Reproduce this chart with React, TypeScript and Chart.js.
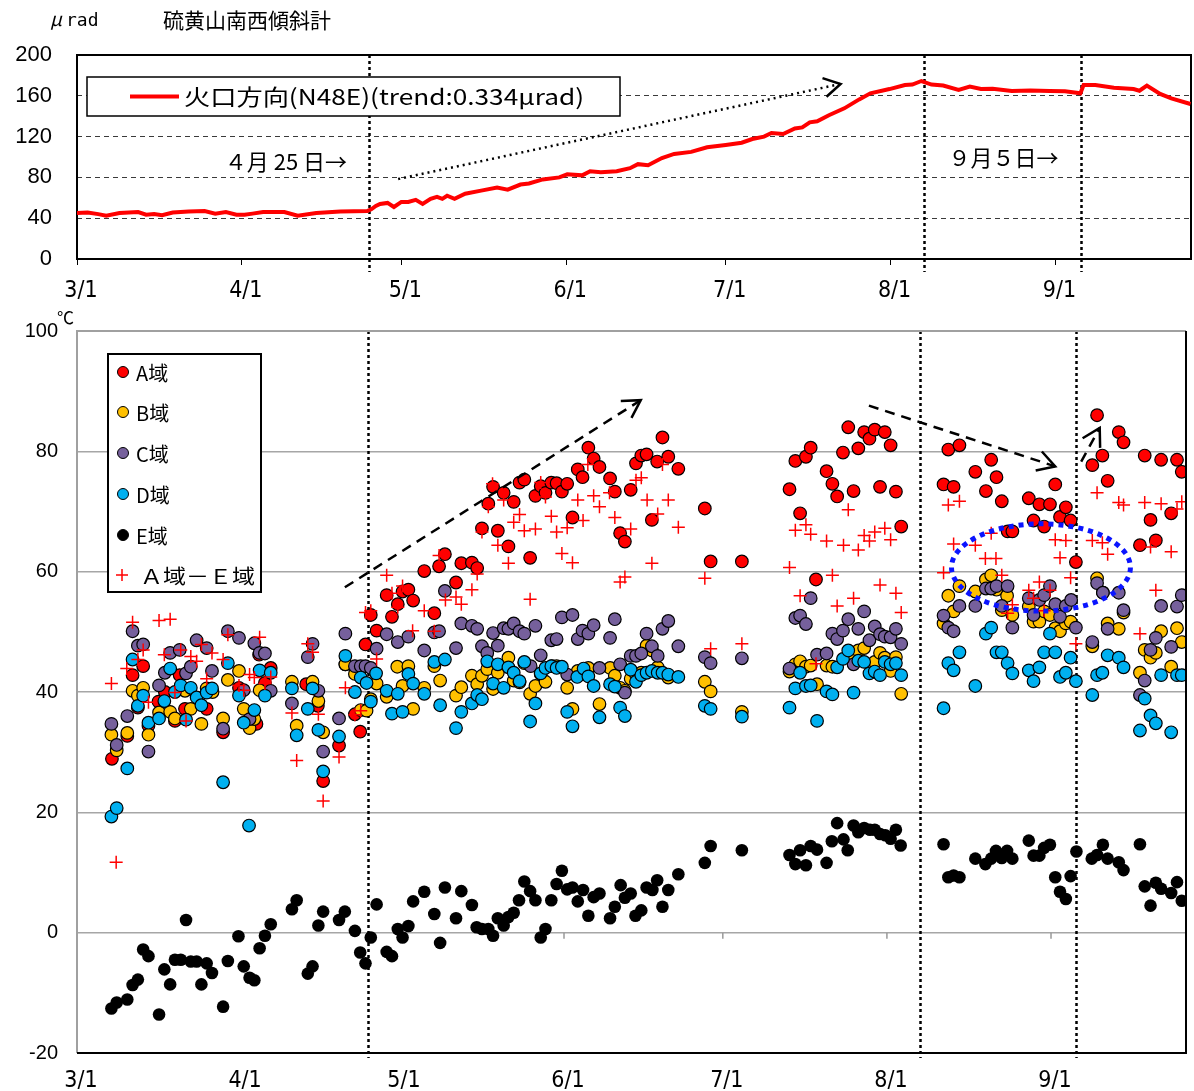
import React, { useEffect, useRef } from "react";
import { Chart, registerables } from "chart.js";

Chart.register(...registerables);

// ---- axis definitions (x = days since 3/1) ----
const TICK_DAYS = [0, 31, 61, 92, 122, 153, 184];
const TICK_LABELS = ["3/1", "4/1", "5/1", "6/1", "7/1", "8/1", "9/1"];
const X_MAX = 209.5;
const EVENT_DAYS = [55, 159.3, 188.8];

// ---- top panel: tilt (μrad) ----
const TILT_DAYS = [0, 2, 4, 5.5, 8, 11.5, 13, 14.5, 16, 18, 21, 24, 26, 28, 30, 31.5, 33, 35, 39, 41.5, 45, 49.5, 54.6, 55.4, 56.2, 57, 58.4, 59.6, 61, 62.3, 63.7, 65, 66.5, 67.7, 68.7, 69.6, 71, 73, 76, 79, 81, 83.4, 85, 87.6, 90.7, 92.2, 95, 96.5, 98.5, 101.5, 104, 105.5, 107.4, 110, 112.3, 115.5, 118.5, 122, 125, 127, 129.2, 130.6, 132.8, 135, 136.4, 137.8, 139.2, 141.4, 144.3, 147.1, 149.2, 152.8, 155.7, 157.1, 158.8, 160.7, 162.9, 165.8, 167.9, 170, 172.2, 175.8, 179.3, 182.9, 185.8, 188.7, 189.3, 191.5, 195, 198.7, 199.8, 201.2, 203.7, 205.8, 209.4];
const TILT_VALUES = [45, 45.5, 44, 42.5, 45, 46, 43.5, 44, 43, 45.5, 46.5, 47, 44.5, 46, 43.5, 43.5, 44.5, 46, 46, 42.5, 45, 46.5, 47, 49, 52, 54, 55, 51, 56, 56, 58, 54, 59, 61, 59, 62, 59, 64, 67, 70, 68, 73, 74, 78, 80, 83, 82, 86, 85, 86, 89, 93, 92, 99, 103, 105, 109.5, 111.8, 114, 117.6, 120, 123.5, 122.5, 128, 129, 134, 135, 141, 147.7, 156.5, 162.4, 166.6, 170.6, 171, 174.5, 171, 170, 165.7, 169, 166.6, 167, 164.7, 165.3, 164.7, 164.4, 162.4, 170.6, 170.6, 168, 166.6, 165, 170, 161.8, 157.5, 152];
const TILT_TICK_STEP = 40;

// ---- bottom panel: temperatures (℃), [day, value] ----
const A_POINTS: [number, number][] = [[6.6,28.9],[9.5,32.7],[10.5,42.8],[11.5,37.4],[12.5,44.3],[13.5,34.4],[15.4,38.4],[16.6,40],[18.5,35.2],[19.4,42.8],[20.4,37.2],[24.5,37.2],[27.6,33.3],[30.6,40.7],[33.9,34.7],[34.4,46.2],[35.5,41.5],[36.6,44],[43.3,41.3],[45.5,37.7],[46.5,25.2],[49.5,31.1],[50.7,44.6],[52.5,36.3],[53.5,33.4],[54.5,47.9],[55.5,52.8],[56.6,50.2],[58.5,56.1],[59.5,52.5],[60.6,54.6],[61.5,56.7],[62.6,57],[63.5,55.2],[65.6,60.1],[67.5,53.1],[68.4,60.9],[69.5,62.9],[71.6,58.2],[72.6,61.4],[74.6,61.5],[75.6,60.6],[76.5,67.2],[77.7,71.3],[78.6,74.1],[79.5,66.8],[80.6,73.1],[81.5,64.2],[82.5,71.6],[83.6,74.8],[84.5,75.3],[85.6,62.3],[86.6,72.6],[87.6,74.2],[88.5,73.1],[89.6,74.8],[90.6,74.7],[91.6,73.3],[92.6,74.6],[93.6,69],[94.6,77],[95.5,75.7],[96.6,80.6],[97.6,78.8],[98.7,77.4],[100.7,75.5],[101.6,73.3],[102.6,66.4],[103.5,65],[104.6,73.6],[105.6,78],[106.6,79.3],[107.6,79.5],[108.6,68.6],[109.6,78.3],[110.6,82.3],[111.7,79.1],[113.6,77.1],[118.6,70.5],[119.7,61.7],[125.6,61.7],[134.6,73.7],[135.7,78.4],[136.6,69.7],[137.7,79.1],[138.6,80.6],[139.6,58.7],[141.6,76.7],[142.7,74.6],[143.6,72.5],[144.7,79.8],[145.7,84],[146.7,73.4],[147.6,80.5],[148.7,83.2],[149.7,82.1],[150.7,83.6],[151.7,74.1],[152.6,83.2],[153.7,81],[154.7,73.3],[155.7,67.5],[163.7,74.5],[164.6,80.3],[165.6,74.1],[166.7,81],[169.7,76.6],[171.7,73.4],[172.7,78.6],[173.7,75.7],[174.7,71.7],[175.8,66.7],[176.7,66.7],[179.8,72.2],[180.7,68.5],[181.8,71.2],[182.7,67.5],[183.8,71.2],[184.8,74.5],[185.7,69.1],[186.8,70.7],[187.7,68.5],[188.7,61.6],[191.8,77.7],[192.7,86],[193.7,79.3],[194.7,75.1],[196.8,83.2],[197.7,81.5],[200.8,64.4],[201.7,79.3],[202.8,68.6],[203.8,65.2],[204.8,78.6],[206.7,69.7],[207.8,78.6],[208.7,76.6]];

const B_POINTS: [number, number][] = [[6.5,32.9],[7.5,30.3],[9.5,33.2],[10.5,40.2],[11.5,39.4],[12.5,40.7],[13.5,32.9],[15.5,36.6],[17.6,36.7],[18.5,35.6],[20.4,40.2],[21.5,37.2],[23.5,34.7],[24.5,40.6],[25.6,40],[27.6,35.6],[28.5,42],[30.6,43.5],[31.5,37.2],[32.6,34],[33.5,35.5],[34.5,40.3],[40.6,41.7],[41.5,34.4],[44.5,41.7],[45.6,38.5],[46.5,33.3],[50.7,44.6],[52.5,43],[53.6,37],[54.7,36.9],[55.5,38.8],[56.6,41.4],[58.5,39.2],[60.5,44.2],[61.5,41],[62.6,44.3],[63.5,37.2],[65.6,40.7],[67.5,44.3],[68.6,41.9],[71.6,39.4],[72.6,40.8],[74.6,42.7],[75.6,41.3],[76.5,42.7],[77.5,43.8],[78.6,40.5],[79.5,43.2],[81.5,45.7],[82.5,41.9],[83.6,41.6],[84.5,44.8],[85.6,39.7],[86.6,41],[87.6,43],[88.5,41.7],[89.7,44.3],[90.6,44.3],[92.6,40.7],[93.6,37.2],[94.6,43.5],[96.6,44],[98.7,38],[100.7,44],[101.6,42.7],[102.6,40.7],[103.5,40.2],[104.6,42.2],[105.6,42.9],[106.6,43.2],[107.6,47.7],[108.6,46.9],[109.7,44.1],[111.7,42.4],[118.6,41.7],[119.7,40.1],[125.6,36.7],[134.6,43.4],[135.7,44.6],[136.6,45.1],[137.7,44.2],[138.6,44.4],[139.8,41.3],[141.6,44.4],[142.7,44.2],[146.7,45.7],[147.6,46.9],[148.7,47.3],[150.7,45],[151.7,46.5],[152.6,45.7],[153.7,43.5],[154.7,45.8],[155.7,39.7],[163.7,51.4],[164.6,56],[165.6,53.4],[166.7,57.6],[169.7,56.7],[171.7,58.7],[172.7,59.4],[173.7,57],[174.7,53.6],[175.7,56],[176.7,52.8],[179.8,54.2],[180.7,51.7],[181.8,51.7],[182.7,53.4],[183.8,52.8],[184.8,50.6],[185.7,50.1],[186.8,51.4],[187.7,51.7],[191.8,47.6],[192.7,58.9],[193.8,56.5],[194.7,51.4],[196.8,50.5],[197.7,53.2],[200.8,43.2],[201.7,47],[202.8,45.7],[203.8,46.5],[204.8,50.1],[206.7,44.2],[207.8,50.6],[208.7,48.3]];

const C_POINTS: [number, number][] = [[6.5,34.7],[7.5,31.2],[9.5,36],[10.5,50.1],[11.5,47.7],[12.5,47.9],[13.5,30.1],[15.5,41.1],[16.6,43.2],[17.6,46.5],[19.4,47],[20.6,43.1],[21.5,44.2],[22.6,48.6],[24.5,47.3],[25.5,43.5],[27.6,33.9],[28.5,50.1],[30.6,49],[31.5,40.3],[32.6,35.5],[33.5,48.1],[34.5,46.5],[35.5,46.4],[36.6,40.2],[40.6,38.1],[43.6,45.8],[44.5,48],[45.6,40.2],[46.5,30.1],[49.5,35.6],[50.7,49.7],[52.5,44.3],[53.6,44.3],[54.5,44.3],[55.5,44],[56.6,47.2],[58.5,49.6],[60.6,48.3],[62.6,49.2],[65.6,46.9],[67.5,49.9],[68.4,50.1],[69.5,56.8],[71.6,47.3],[72.6,51.4],[74.6,51],[75.6,50.5],[76.5,47.6],[77.5,46.5],[78.6,49.8],[79.5,47.7],[80.6,50.6],[81.5,50.5],[82.5,51.4],[83.6,50.1],[84.5,49.7],[85.7,44.3],[86.6,51],[87.6,46.1],[89.6,48.6],[90.6,48.8],[91.6,52.4],[92.6,42.9],[93.6,52.8],[94.6,48.8],[95.5,50.2],[96.6,49.7],[97.6,51.1],[98.7,44],[100.7,49],[101.6,52.1],[102.6,44.6],[103.5,39.9],[104.6,46],[105.6,46],[106.6,46.4],[107.6,49.7],[108.6,47.6],[109.7,46],[110.6,50.5],[111.7,51.8],[113.6,47.6],[118.6,45.8],[119.7,44.8],[125.6,45.6],[134.6,43.9],[135.7,52.3],[136.6,52.7],[137.7,51.3],[138.6,55.6],[139.8,46.2],[141.6,46.4],[142.7,49.7],[143.6,48.8],[144.7,50.2],[145.7,52.1],[146.7,44.6],[147.6,50.5],[148.7,53.4],[149.7,48.6],[150.7,50.9],[151.7,49.6],[152.6,49.2],[153.7,49.1],[154.7,50.5],[155.7,48],[163.7,52.7],[164.6,50.7],[165.6,50.1],[166.7,54.3],[169.7,54.3],[171.7,57.2],[172.7,57.2],[173.7,57.6],[174.7,54.3],[175.8,57.6],[176.7,50.7],[179.8,55.6],[180.7,52.8],[181.8,55.3],[182.7,56.1],[183.8,57.6],[184.8,54.6],[185.7,52.5],[186.8,54.3],[187.8,55.3],[188.7,50.7],[191.8,48.3],[192.7,58.1],[193.8,56.5],[194.7,50.5],[196.8,56.5],[197.7,53.6],[200.8,39.5],[201.7,41.9],[202.8,47],[203.8,49],[204.8,54.3],[206.7,47.5],[207.8,54.2],[208.7,56.1]];

const D_POINTS: [number, number][] = [[6.5,19.3],[7.5,20.7],[9.5,27.3],[10.5,45.4],[11.5,37.7],[12.5,39.4],[13.5,34.9],[15.5,35.6],[16.5,38.5],[17.6,43.9],[18.5,40],[19.6,41.1],[20.6,35.4],[21.5,40.7],[22.6,39.1],[23.5,37.8],[24.5,39.9],[25.5,40.6],[27.6,25],[28.5,44.8],[30.6,39.4],[31.5,34.9],[32.5,17.8],[33.5,37],[34.5,43.6],[35.5,39.4],[36.6,43.2],[40.6,40.6],[41.5,32.8],[43.6,37.2],[44.5,40.6],[45.6,33.7],[46.5,26.8],[49.5,32.6],[50.7,46],[52.5,40],[53.6,42.4],[54.7,41.5],[55.5,38.4],[56.5,43.1],[58.5,40.2],[59.5,36.4],[60.6,39.7],[61.5,36.7],[62.6,43],[63.5,41.4],[65.6,39.7],[67.5,45],[68.6,37.8],[69.5,45.4],[71.6,34],[72.6,36.7],[74.6,38.1],[75.6,39.5],[76.5,38.8],[77.5,45.1],[78.6,41.4],[79.5,44.6],[80.6,40.7],[81.5,44.1],[82.5,43.2],[83.6,41.8],[84.5,45],[85.6,35.1],[86.6,38.1],[87.6,43.1],[88.5,44],[89.6,44.3],[90.6,44],[91.6,44.2],[92.6,36.7],[93.6,34.3],[94.5,42.5],[95.7,43.9],[96.6,42.6],[97.6,41],[98.7,35.8],[100.7,41.3],[101.6,40.9],[102.6,37.4],[103.5,36],[104.6,43.7],[105.6,41.7],[106.6,42.8],[107.6,43.2],[108.6,43.5],[109.7,43.2],[110.6,43.2],[111.7,42.9],[113.6,42.5],[118.6,37.7],[119.7,37.2],[125.6,35.9],[134.6,37.4],[135.7,40.6],[136.6,43.2],[137.7,41],[138.6,41.1],[139.8,35.2],[141.6,40.1],[142.7,39.6],[143.6,44.1],[144.7,45.5],[145.7,46.9],[146.7,39.9],[147.6,45.2],[148.7,45],[149.7,43.1],[150.7,43.4],[151.7,42.8],[152.6,45],[153.7,44.6],[154.7,44.8],[155.7,42.8],[163.7,37.3],[164.6,44.8],[165.6,43.6],[166.7,46.6],[169.7,41],[171.7,49.7],[172.7,50.7],[173.7,46.6],[174.7,46.6],[175.8,44.8],[176.7,43.1],[179.8,43.6],[180.7,41.8],[181.8,44.1],[182.7,46.6],[183.8,49.7],[184.8,46.6],[185.7,42.5],[186.8,43.2],[187.7,45.7],[188.7,41.8],[191.8,39.5],[192.7,42.8],[193.7,43.2],[194.7,46.1],[196.8,45.7],[197.7,44.1],[200.8,33.6],[201.7,38.9],[202.8,36.1],[203.8,34.8],[204.8,42.8],[206.7,33.3],[207.8,42.8],[208.7,42.8]];

const E_POINTS: [number, number][] = [[6.5,-12.6],[7.5,-11.6],[9.5,-11.1],[10.5,-8.7],[11.5,-7.8],[12.5,-2.8],[13.5,-3.9],[15.5,-13.6],[16.5,-6.1],[17.6,-8.6],[18.5,-4.5],[19.6,-4.5],[20.6,2.1],[21.5,-4.8],[22.6,-4.8],[23.5,-8.6],[24.5,-5.1],[25.5,-6.7],[27.6,-12.3],[28.5,-4.7],[30.5,-0.6],[31.5,-5.6],[32.6,-7.5],[33.5,-7.9],[34.5,-2.6],[35.5,-0.5],[36.6,1.4],[40.6,3.9],[41.5,5.4],[43.6,-6.8],[44.5,-5.6],[45.6,1.2],[46.5,3.5],[49.5,2.1],[50.6,3.5],[52.5,0.3],[53.5,-3.3],[54.5,-5.1],[55.5,-0.8],[56.6,4.7],[58.5,-3.2],[59.5,-3.9],[60.6,0.6],[61.5,-0.8],[62.6,1.1],[63.5,5.2],[65.6,6.8],[67.5,3.1],[68.6,-1.7],[69.5,7.5],[71.6,2.4],[72.6,6.9],[74.6,4.6],[75.5,0.9],[76.5,0.6],[77.7,0.6],[78.6,-0.5],[79.5,2.4],[80.6,1.2],[81.5,2.6],[82.5,3.3],[83.5,5.4],[84.5,8.5],[85.6,6.9],[86.6,5.4],[87.6,-0.8],[88.5,0.6],[89.6,5.4],[90.6,8.1],[91.6,10.3],[92.6,7.2],[93.6,7.5],[94.6,5.2],[95.6,7.1],[96.6,2.8],[97.6,5.9],[98.7,6.5],[100.7,2.4],[101.6,4.3],[102.7,7.9],[103.5,5.8],[104.6,6.5],[105.5,2.8],[106.6,3.7],[107.6,7.5],[108.7,7.1],[109.6,8.7],[110.6,4.3],[111.7,7.1],[113.6,9.7],[118.6,11.6],[119.7,14.4],[125.6,13.7],[134.6,12.9],[135.7,11.4],[136.6,13.7],[137.7,11.2],[138.6,14.4],[139.8,13.8],[141.6,11.6],[142.6,15.2],[143.6,18.2],[144.8,15.5],[145.6,13.7],[146.7,17.8],[147.6,16.7],[148.7,17.4],[149.8,17.1],[150.7,17.1],[151.7,16.4],[152.7,16.2],[153.7,15.6],[154.7,17.1],[155.6,14.5],[163.7,14.7],[164.6,9.2],[165.6,9.5],[166.7,9.2],[169.7,12.3],[171.6,11.4],[172.7,12.3],[173.6,13.6],[174.7,12.4],[175.7,13.6],[176.7,12.3],[179.8,15.3],[180.7,12.8],[181.8,12.8],[182.7,14.1],[183.8,14.6],[184.8,9.2],[185.7,6.8],[186.8,5.6],[187.7,9.4],[188.8,13.5],[191.7,12.3],[192.7,12.9],[193.8,14.6],[194.7,12.3],[196.8,11.7],[197.7,10.4],[200.8,14.7],[201.7,7.7],[202.8,4.5],[203.8,8.3],[204.8,7.3],[206.7,6.6],[207.8,8.4],[208.7,5.3]];

const AE_POINTS: [number, number][] = [[6.5,41.4],[7.4,11.7],[9.4,43.9],[10.5,51.6],[11.5,45.4],[12.5,47],[13.5,38.3],[15.5,51.9],[16.5,46.2],[17.6,52.1],[18.5,39.9],[19.6,47],[20.6,35.2],[21.5,45.9],[22.6,45.1],[23.5,47.9],[24.5,42.2],[25.5,46.5],[27.6,45.4],[28.5,49.5],[30.6,41.1],[31.5,40.3],[32.6,42.9],[33.5,42.4],[34.5,49.1],[35.5,41.4],[36.6,42.5],[40.6,36.5],[41.5,28.6],[43.6,48],[44.5,46.6],[45.6,36.3],[46.5,21.9],[49.5,29.2],[50.7,40.7],[52.5,36.2],[53.6,36.9],[54.5,53.2],[55.5,53.5],[56.6,45.5],[58.5,59.4],[59.5,56.4],[60.6,54.1],[61.5,57.6],[63.4,50.2],[65.6,53.5],[67.5,50.1],[68.4,62.7],[69.6,55.3],[71.6,55.8],[72.6,54.6],[74.6,57],[75.6,59.6],[76.5,66.6],[77.7,70.8],[78.5,74.6],[79.5,64.4],[80.6,71.9],[81.5,61.4],[82.5,68.2],[83.6,69.5],[84.5,66.8],[85.6,55.4],[86.6,67.1],[87.6,74.8],[88.5,72.4],[89.6,69.2],[90.6,66.6],[91.6,63],[92.6,67.3],[93.6,61.5],[94.6,71.9],[95.6,68.5],[96.5,77.8],[97.6,72.6],[98.7,70.8],[100.6,73.1],[101.6,69],[102.6,58.3],[103.5,59.1],[104.6,67.1],[105.6,75.2],[106.6,75.6],[107.7,71.9],[108.6,61.4],[109.7,69.6],[110.6,77.8],[111.7,71.9],[113.6,67.4],[118.6,58.9],[119.7,47.2],[125.6,48],[134.6,60.7],[135.7,66.9],[136.6,56],[137.7,67.8],[138.6,66.2],[139.6,44.7],[141.6,65.1],[142.7,59.4],[143.6,54.3],[144.8,64.4],[145.7,70.3],[146.7,55.6],[147.6,63.6],[148.7,66],[149.7,65.1],[150.7,66.6],[151.7,57.8],[152.6,67.2],[153.7,65.3],[154.7,56.4],[155.7,53.2],[163.7,59.8],[164.6,71.1],[165.6,64.6],[166.7,71.7],[169.7,64.4],[171.6,62.2],[172.7,66.4],[173.6,62.2],[174.7,59.4],[175.8,53.1],[176.7,54.5],[179.8,56.9],[180.7,55.6],[181.8,58.3],[182.7,53.5],[183.8,56.9],[184.8,65.3],[185.7,62.3],[186.8,65.2],[187.7,59],[188.7,48],[191.8,65.2],[192.7,73.1],[193.7,64.8],[194.7,62.9],[196.8,71.5],[197.7,71.1],[200.8,49.7],[201.7,71.5],[202.8,64.1],[203.8,56.9],[204.8,71.3],[206.7,63.3],[207.8,70.4],[208.7,71.6]];

const SERIES_LABELS = ["A域", "B域", "C域", "D域", "E域", "Ａ域－Ｅ域"];
const SERIES_COLORS = ["#ff0000", "#ffc000", "#76609c", "#00b0f0", "#000000", "#ff0000"];

// annotations (data coordinates)
const TOP_ARROW = { from: [60.4, 78.4], to: [143.6, 171.6] };
const TOP_NOTES = [
  { text: "４月 25 日→", day: 27.8, value: 95 },
  { text: "９月５日→", day: 163.9, value: 99 },
];
const BOTTOM_ARROWS = [
  { from: [50.6, 57.4], to: [106.5, 88.5] },
  { from: [149.6, 87.6], to: [184.8, 77.5] },
  { from: [189.7, 78.3], to: [193.2, 83.9] },
];
const ELLIPSE = { day: 182.1, value: 60.7, rDays: 16.9, rValue: 7.25 };

const JP = '"Noto Sans CJK JP", "Noto Sans", sans-serif';
const LAT = '"Liberation Sans", Arial, sans-serif';
const NARROW = '"Liberation Sans Narrow", "DejaVu Sans Condensed", "Liberation Sans", sans-serif';

function drawArrow(ctx: CanvasRenderingContext2D, x1: number, y1: number, x2: number, y2: number, dash: number[], width: number, head: number) {
  ctx.save();
  ctx.strokeStyle = "#000";
  ctx.lineWidth = width;
  ctx.setLineDash(dash);
  ctx.beginPath();
  ctx.moveTo(x1, y1);
  ctx.lineTo(x2, y2);
  ctx.stroke();
  ctx.setLineDash([]);
  ctx.lineWidth = 2.5;
  const ang = Math.atan2(y2 - y1, x2 - x1);
  const a = Math.PI / 6;
  ctx.beginPath();
  ctx.moveTo(x2 - head * Math.cos(ang - a), y2 - head * Math.sin(ang - a));
  ctx.lineTo(x2, y2);
  ctx.lineTo(x2 - head * Math.cos(ang + a), y2 - head * Math.sin(ang + a));
  ctx.stroke();
  ctx.restore();
}

function drawEventLines(chart: any, extra: number) {
  const { ctx, chartArea, scales } = chart;
  ctx.save();
  ctx.strokeStyle = "#000";
  ctx.lineWidth = 2.5;
  ctx.setLineDash([3, 3]);
  EVENT_DAYS.forEach((d) => {
    const x = Math.round(scales.x.getPixelForValue(d)) + 0.5;
    ctx.beginPath();
    ctx.moveTo(x, chartArea.top);
    ctx.lineTo(x, chartArea.bottom + extra);
    ctx.stroke();
  });
  ctx.restore();
}

const xScaleBase = (padding: number, size: number) => ({
  type: "linear" as const,
  min: 0,
  max: X_MAX,
  afterBuildTicks: (s: any) => {
    s.ticks = TICK_DAYS.map((v) => ({ value: v }));
  },
  ticks: {
    callback: (_v: any, i: number) => TICK_LABELS[i],
    font: { family: NARROW, size },
    color: "#000",
    maxRotation: 0,
    autoSkip: false,
    padding,
    labelOffset: 4,
  },
  border: { display: false },
});

const topPlugin = {
  id: "topDecor",
  beforeDatasetsDraw(chart: any) {
    const { ctx, chartArea } = chart;
    drawEventLines(chart, 13);
    ctx.save();
    ctx.strokeStyle = "#000";
    ctx.lineWidth = 2;
    ctx.strokeRect(chartArea.left, chartArea.top, chartArea.right - chartArea.left, chartArea.bottom - chartArea.top);
    ctx.restore();
  },
  afterDatasetsDraw(chart: any) {
    const { ctx, scales } = chart;
    const xs = scales.x, ys = scales.y;
    drawArrow(ctx, xs.getPixelForValue(TOP_ARROW.from[0]), ys.getPixelForValue(TOP_ARROW.from[1]), xs.getPixelForValue(TOP_ARROW.to[0]), ys.getPixelForValue(TOP_ARROW.to[1]), [2, 4], 2.5, 19);
    ctx.save();
    ctx.fillStyle = "#000";
    ctx.textBaseline = "middle";
    ctx.font = `22px ${JP}`;
    TOP_NOTES.forEach((n) => {
      ctx.fillText(n.text, xs.getPixelForValue(n.day), ys.getPixelForValue(n.value));
    });
    // legend box
    ctx.fillStyle = "#fff";
    ctx.fillRect(87, 77, 533, 39);
    ctx.strokeStyle = "#000";
    ctx.lineWidth = 1.5;
    ctx.strokeRect(87, 77, 533, 39);
    ctx.strokeStyle = SERIES_COLORS[0];
    ctx.lineWidth = 4;
    ctx.beginPath();
    ctx.moveTo(130, 96.5);
    ctx.lineTo(179, 96.5);
    ctx.stroke();
    ctx.fillStyle = "#000";
    ctx.font = `22px ${JP}`;
    const label = "火口方向(N48E)(trend:0.334μrad)";
    const w = ctx.measureText(label).width;
    ctx.save();
    ctx.translate(184, 97);
    ctx.scale(400 / w, 1);
    ctx.fillText(label, 0, 0);
    ctx.restore();
    // headings
    ctx.textBaseline = "alphabetic";
    ctx.font = `italic 19px ${JP}`;
    ctx.fillText("μ", 50, 26);
    ctx.font = `18px "DejaVu Sans Mono", monospace`;
    ctx.fillText("rad", 66, 26);
    ctx.textBaseline = "middle";
    ctx.font = `21px ${JP}`;
    ctx.fillText("硫黄山南西傾斜計", 163, 20);
    ctx.restore();
  },
};

const bottomPlugin = {
  id: "bottomDecor",
  beforeDatasetsDraw(chart: any) {
    const { ctx, chartArea, scales } = chart;
    const y0 = scales.y.getPixelForValue(0);
    ctx.save();
    ctx.strokeStyle = "#999";
    ctx.lineWidth = 1.5;
    TICK_DAYS.forEach((d) => {
      const x = scales.x.getPixelForValue(d);
      ctx.beginPath();
      ctx.moveTo(x, y0);
      ctx.lineTo(x, y0 + 6);
      ctx.stroke();
    });
    ctx.restore();
    drawEventLines(chart, 5);
    ctx.save();
    ctx.lineWidth = 2;
    ctx.strokeStyle = "#a0a0a0";
    ctx.beginPath();
    ctx.moveTo(chartArea.left, chartArea.bottom);
    ctx.lineTo(chartArea.left, chartArea.top);
    ctx.lineTo(chartArea.right, chartArea.top);
    ctx.stroke();
    ctx.restore();
  },
  afterDatasetsDraw(chart: any) {
    const { ctx, chartArea, scales } = chart;
    const xs = scales.x, ys = scales.y;
    ctx.save();
    ctx.lineWidth = 2;
    ctx.strokeStyle = "#000";
    ctx.beginPath();
    ctx.moveTo(chartArea.left, chartArea.bottom);
    ctx.lineTo(chartArea.right, chartArea.bottom);
    ctx.lineTo(chartArea.right, chartArea.top);
    ctx.stroke();
    ctx.restore();
    BOTTOM_ARROWS.forEach((a) => {
      drawArrow(ctx, xs.getPixelForValue(a.from[0]), ys.getPixelForValue(a.from[1]), xs.getPixelForValue(a.to[0]), ys.getPixelForValue(a.to[1]), [10, 7], 2.5, 20);
    });
    // ellipse
    const cx = xs.getPixelForValue(ELLIPSE.day);
    const cy = ys.getPixelForValue(ELLIPSE.value);
    const rx = xs.getPixelForValue(ELLIPSE.day + ELLIPSE.rDays) - cx;
    const ry = cy - ys.getPixelForValue(ELLIPSE.value + ELLIPSE.rValue);
    ctx.save();
    ctx.strokeStyle = "#0a14ff";
    ctx.lineWidth = 5;
    ctx.setLineDash([5, 5]);
    ctx.beginPath();
    ctx.ellipse(cx, cy, rx, ry, 0, 0, Math.PI * 2);
    ctx.stroke();
    ctx.restore();
    // legend
    ctx.save();
    const lx = 108, ly = 54, lw = 153, lh = 238;
    ctx.fillStyle = "#fff";
    ctx.fillRect(lx, ly, lw, lh);
    ctx.strokeStyle = "#000";
    ctx.lineWidth = 2;
    ctx.strokeRect(lx, ly, lw, lh);
    const rows = [72, 112, 153, 194, 235, 275];
    ctx.textBaseline = "middle";
    ctx.font = `20px ${JP}`;
    SERIES_LABELS.forEach((lab, i) => {
      const y = rows[i];
      if (i < 5) {
        ctx.beginPath();
        ctx.arc(123, y, 5.5, 0, Math.PI * 2);
        ctx.fillStyle = SERIES_COLORS[i];
        ctx.fill();
        ctx.lineWidth = 1;
        ctx.strokeStyle = "#000";
        ctx.stroke();
        ctx.fillStyle = "#000";
        ctx.fillText(lab, 136, y + 1);
      } else {
        ctx.strokeStyle = SERIES_COLORS[i];
        ctx.lineWidth = 1.5;
        ctx.beginPath();
        ctx.moveTo(116, y);
        ctx.lineTo(128, y);
        ctx.moveTo(122, y - 6);
        ctx.lineTo(122, y + 6);
        ctx.stroke();
        ctx.fillStyle = "#000";
        const w = ctx.measureText(lab).width;
        ctx.save();
        ctx.translate(140, y + 1);
        ctx.scale(115 / w, 1);
        ctx.fillText(lab, 0, 0);
        ctx.restore();
      }
    });
    // unit
    ctx.fillStyle = "#000";
    ctx.font = `17px ${JP}`;
    ctx.fillText("℃", 57, 18);
    ctx.restore();
  },
};

const toXY = (pts: [number, number][]) => pts.map(([x, y]) => ({ x, y }));

export default function App() {
  const topRef = useRef<HTMLCanvasElement>(null);
  const botRef = useRef<HTMLCanvasElement>(null);

  useEffect(() => {
    document.body.style.margin = "0";
    const top = new Chart(topRef.current as HTMLCanvasElement, {
      type: "line",
      data: {
        datasets: [
          {
            data: TILT_DAYS.map((d, i) => ({ x: d, y: TILT_VALUES[i] })),
            borderColor: "#ff0000",
            borderWidth: 4,
            pointRadius: 0,
            tension: 0,
            fill: false,
          },
        ],
      },
      options: {
        responsive: false,
        animation: false,
        devicePixelRatio: 1,
        layout: { padding: { left: 0, right: 3, top: 55, bottom: 0 } },
        plugins: { legend: { display: false }, tooltip: { enabled: false } },
        scales: {
          x: {
            ...xScaleBase(12, 23),
            grid: { display: true, drawOnChartArea: false, drawTicks: true, tickLength: 6, color: "#000", lineWidth: 1 },
            afterFit: (s: any) => {
              s.height = 41;
            },
          },
          y: {
            min: 0,
            max: 200,
            ticks: { stepSize: TILT_TICK_STEP, font: { family: LAT, size: 22 }, color: "#000", padding: 25 },
            grid: {
              drawTicks: false,
              color: (c: any) => (c.tick && (c.tick.value === 0 || c.tick.value === 200) ? "rgba(0,0,0,0)" : "#3a3a3a"),
              lineWidth: 1,
            },
            border: { display: false, dash: [5, 4] },
            afterFit: (s: any) => {
              s.width = 77;
            },
          },
        },
      } as any,
      plugins: [topPlugin],
    });

    const pointSet = [A_POINTS, B_POINTS, C_POINTS, D_POINTS, E_POINTS];
    const datasets: any[] = pointSet.map((pts, i) => ({
      label: SERIES_LABELS[i],
      data: toXY(pts),
      pointStyle: "circle",
      pointRadius: 6.3,
      pointBackgroundColor: SERIES_COLORS[i],
      pointBorderColor: "#000",
      pointBorderWidth: i === 4 ? 0 : 1.2,
      showLine: false,
      order: 5 - i,
    }));
    datasets.push({
      label: SERIES_LABELS[5],
      data: toXY(AE_POINTS),
      pointStyle: "cross",
      pointRadius: 6.5,
      pointBorderColor: SERIES_COLORS[5],
      pointBorderWidth: 1.5,
      showLine: false,
      order: 0,
    });

    const bottom = new Chart(botRef.current as HTMLCanvasElement, {
      type: "scatter",
      data: { datasets },
      options: {
        responsive: false,
        animation: false,
        devicePixelRatio: 1,
        layout: { padding: { left: 0, right: 5, top: 26, bottom: 0 } },
        plugins: { legend: { display: false }, tooltip: { enabled: false } },
        scales: {
          x: {
            ...xScaleBase(14, 23),
            grid: { display: false, drawTicks: false },
            afterFit: (s: any) => {
              s.height = 38;
            },
          },
          y: {
            min: -20,
            max: 100,
            ticks: { stepSize: 20, font: { family: LAT, size: 20 }, color: "#000", padding: 19 },
            grid: {
              drawTicks: false,
              color: (c: any) => (c.tick && (c.tick.value === -20 || c.tick.value === 100) ? "rgba(0,0,0,0)" : "#a6a6a6"),
              lineWidth: 1.5,
            },
            border: { display: false },
            afterFit: (s: any) => {
              s.width = 77;
            },
          },
        },
      } as any,
      plugins: [bottomPlugin],
    });

    return () => {
      top.destroy();
      bottom.destroy();
    };
  }, []);

  return (
    <div style={{ position: "relative", width: 1194, height: 1091, background: "#fff" }}>
      <canvas ref={topRef} width={1194} height={300} style={{ position: "absolute", left: 0, top: 0, width: 1194, height: 300 }} />
      <canvas ref={botRef} width={1194} height={791} style={{ position: "absolute", left: 0, top: 300, width: 1194, height: 791 }} />
    </div>
  );
}
